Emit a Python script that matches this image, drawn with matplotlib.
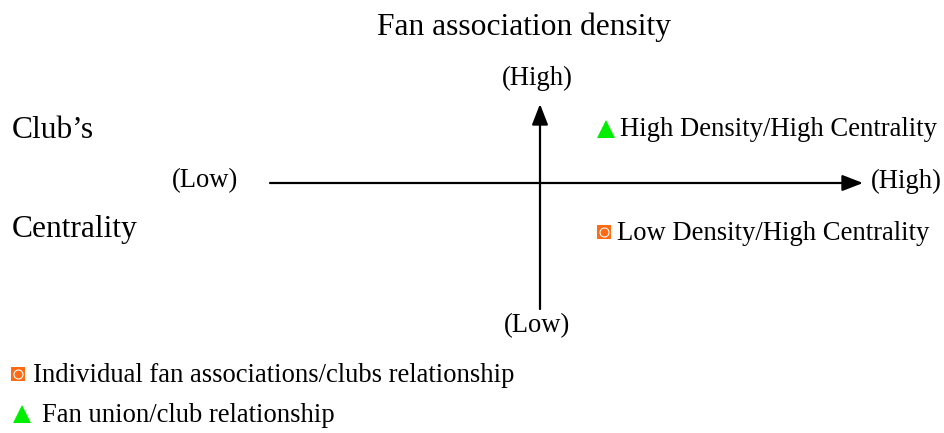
import matplotlib.pyplot as plt
from matplotlib.patches import FancyArrowPatch

plt.rcParams['font.family'] = ['Liberation Serif', 'DejaVu Serif']

# diagram texts
title = "Fan association density"
y_label = ["Club\u2019s", "Centrality"]
axis_ends = {"x_low": "(Low)", "x_high": "(High)", "y_low": "(Low)", "y_high": "(High)"}
quadrants = ["High Density/High Centrality", "Low Density/High Centrality"]
quad_marker = ["^", "s"]
legend_labels = ["Individual fan associations/clubs relationship", "Fan union/club relationship"]
legend_marker = ["s", "^"]

orange = "#ff6a13"
green = "#00ee00"

fig = plt.figure(figsize=(9.44, 4.33), dpi=100)
ax = fig.add_axes([0, 0, 1, 1])
ax.set_xlim(0, 944)
ax.set_ylim(433, 0)
ax.axis("off")


def marker(x, y, kind):
    if kind == "^":
        ax.plot(x, y, marker="^", color=green, markersize=13.5, markeredgewidth=0)
    else:
        ax.plot(x, y, marker="s", color=orange, markersize=10.5, markeredgewidth=0)
        ax.plot(x, y, marker="o", markerfacecolor="none", markeredgecolor="white",
                markersize=6.5, markeredgewidth=0.8)


# axes arrows
style = "-|>,head_length=0.9,head_width=0.35"
ax.add_patch(FancyArrowPatch((270, 183), (863, 183), arrowstyle=style,
                             mutation_scale=14, color="black", lw=1.6, shrinkA=0, shrinkB=0))
ax.add_patch(FancyArrowPatch((540, 309), (540, 104), arrowstyle=style,
                             mutation_scale=14, color="black", lw=1.6, shrinkA=0, shrinkB=0))

big, small = 22.7, 19.2
ax.text(524, 27, title, fontsize=big, ha="center", va="center")
ax.text(12, 130, y_label[0], fontsize=big, ha="left", va="center")
ax.text(12, 230, y_label[1], fontsize=big, ha="left", va="center")

ax.text(205, 181, axis_ends["x_low"], fontsize=small, ha="center", va="center")
ax.text(906, 181, axis_ends["x_high"], fontsize=small, ha="center", va="center")
ax.text(537, 78, axis_ends["y_high"], fontsize=small, ha="center", va="center")
ax.text(537, 326, axis_ends["y_low"], fontsize=small, ha="center", va="center")

# quadrant points
quad_pos = [(606, 129), (604, 232)]
for (x, y), lab, m in zip(quad_pos, quadrants, quad_marker):
    marker(x, y, m)
    ax.text(x + 14 if m == "^" else x + 13, y + 1, lab, fontsize=small, ha="left", va="center")

# legend
leg_pos = [(18, 374), (22, 414)]
leg_text_x = [33, 42]
for (x, y), tx, lab, m in zip(leg_pos, leg_text_x, legend_labels, legend_marker):
    marker(x, y, m)
    ax.text(tx, y + 1, lab, fontsize=small, ha="left", va="center")

fig.savefig("out.png", dpi=100)
